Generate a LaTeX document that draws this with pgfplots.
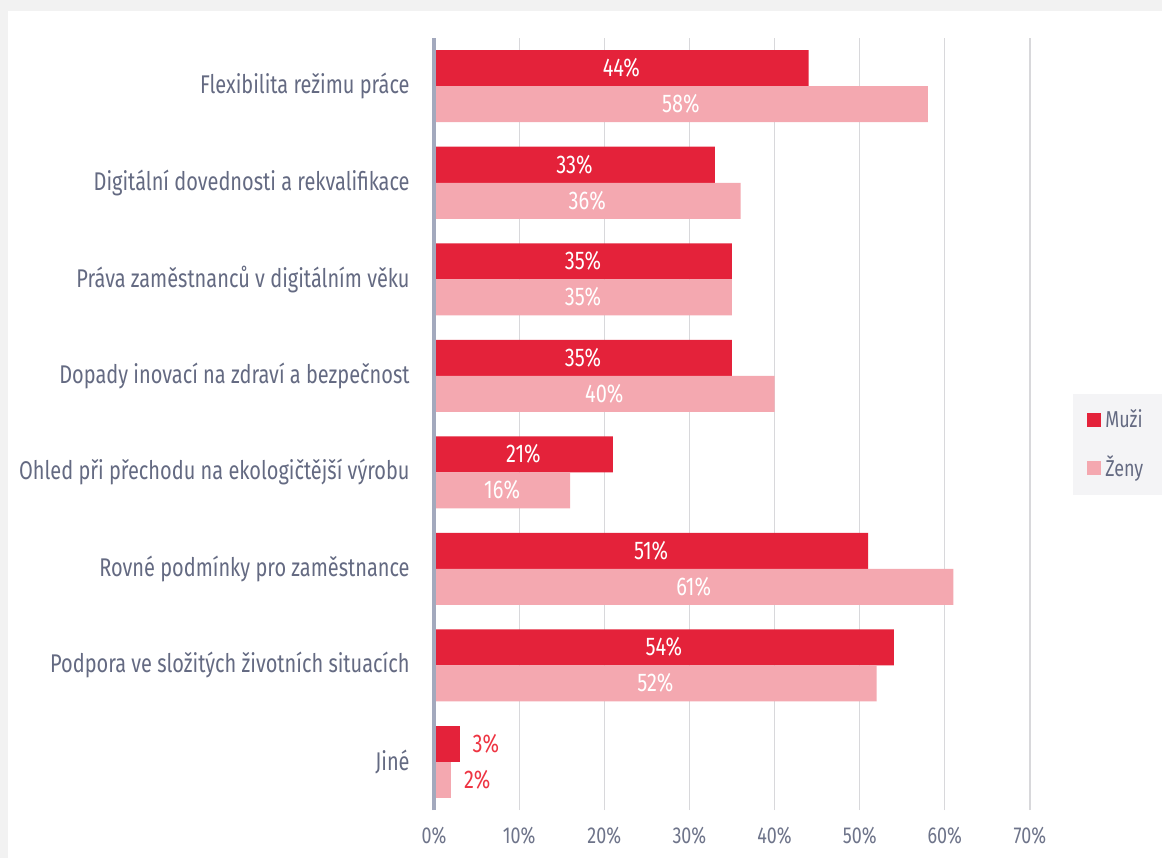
\documentclass[border=0pt]{standalone}
\usepackage{pgfplots}
\pgfplotsset{compat=1.18}
\usepackage{fontspec}
\setmainfont{Fira Sans}[FakeStretch=0.78]

\definecolor{muzi}{HTML}{E4223A}
\definecolor{zeny}{HTML}{F4A8B0}
\definecolor{redtext}{HTML}{EE3442}
\definecolor{labelc}{HTML}{646A82}
\definecolor{tickc}{HTML}{6E748A}
\definecolor{axisc}{HTML}{A3A9BD}
\definecolor{gridc}{HTML}{D8D8DB}
\definecolor{pagebg}{HTML}{F2F2F2}
\definecolor{legbg}{HTML}{F4F4F6}

\pgfplotsset{/pgf/number format/assume math mode=true}

\begin{document}
\begin{tikzpicture}[x=1pt,y=1pt]
\fill[pagebg] (0,0) rectangle (581,429);
\fill[white] (4,0) rectangle (581,423.5);
\useasboundingbox (0,0) rectangle (581,429);
\begin{axis}[
  at={(217pt,24pt)}, anchor=south west,
  scale only axis, width=298pt, height=386pt,
  xmin=0, xmax=70, ymin=-0.5, ymax=7.5,
  xtick={0,10,...,70},
  xticklabel={\pgfmathprintnumber{\tick}\%},
  xticklabel style={font=\fontsize{11.5}{13}\selectfont, text=tickc, inner sep=0pt, anchor=north, yshift=-8.5pt},
  ytick={0,...,7},
  yticklabels={Jiné,
    Podpora ve složitých životních situacích,
    Rovné podmínky pro zaměstnance,
    Ohled při přechodu na ekologičtější výrobu\hspace{2.5pt},
    Dopady inovací na zdraví a bezpečnost\hspace{2.5pt},
    Práva zaměstnanců v digitálním věku\hspace{2.5pt},
    Digitální dovednosti a rekvalifikace\hspace{2.5pt},
    Flexibilita režimu práce},
  yticklabel style={font=\fontsize{12.8}{15}\selectfont, text=labelc, inner sep=0pt, anchor=east, xshift=-12pt},
  xmajorgrids, grid style={gridc, line width=0.6pt},
  axis line style={draw=none},
  tick style={draw=none},
  bar width=18pt,
  nodes near coords={\pgfmathprintnumber{\pgfplotspointmeta}\%},
  legend style={at={(1.072,0.540)}, anchor=north west, draw=none, fill=legbg,
    font=\fontsize{11.5}{13}\selectfont, text=labelc,
    inner xsep=7pt, inner ysep=6pt, row sep=8.5pt,
    text width=20pt},
  legend cell align=left,
  legend image code/.code={\fill[#1] (0pt,-3.5pt) rectangle (7pt,3.5pt);},
  clip=false,
]
% Muži, values written in the middle of the bars
\addplot[xbar, bar shift=9pt, fill=muzi, draw=none,
  point meta=x,
  visualization depends on={rawx \as \rawx},
  nodes near coords style={anchor=center, xshift={-\rawx*2.12857pt}, yshift=9pt,
    text=white, font=\fontsize{12.8}{14}\selectfont}]
  table {
x y
54 1
51 2
21 3
35 4
35 5
33 6
44 7
};
\addlegendentry{Muži}
% Ženy
\addplot[xbar, bar shift=-9pt, fill=zeny, draw=none,
  point meta=x,
  visualization depends on={rawx \as \rawx},
  nodes near coords style={anchor=center, xshift={-\rawx*2.12857pt}, yshift=-9pt,
    text=white, font=\fontsize{12.8}{14}\selectfont}]
  table {
x y
52 1
61 2
16 3
40 4
35 5
36 6
58 7
};
\addlegendentry{Ženy}
% Jiné: short bars, values written beside them
\addplot[xbar, bar shift=9pt, fill=muzi, draw=none, forget plot,
  point meta=x,
  nodes near coords style={anchor=west, xshift=3pt, yshift=9pt, text=redtext,
    font=\fontsize{12.8}{14}\selectfont}]
  table {
x y
3 0
};
\addplot[xbar, bar shift=-9pt, fill=zeny, draw=none, forget plot,
  point meta=x,
  nodes near coords style={anchor=west, xshift=3pt, yshift=-9pt, text=redtext,
    font=\fontsize{12.8}{14}\selectfont}]
  table {
x y
2 0
};
\draw[axisc, line width=1.6pt] (axis cs:0,-0.5) -- (axis cs:0,7.5);
\end{axis}
\end{tikzpicture}
\end{document}
